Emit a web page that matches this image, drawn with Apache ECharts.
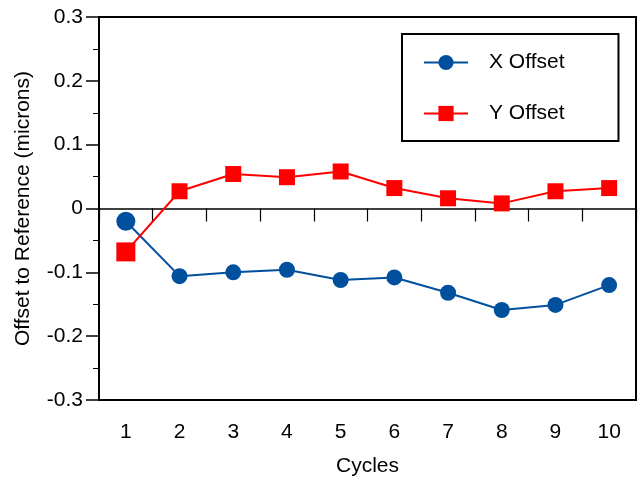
<!DOCTYPE html>
<html>
<head>
<meta charset="utf-8">
<title>Offset to Reference by Cycle</title>
<script src="https://cdn.jsdelivr.net/npm/echarts@6/dist/echarts.min.js"></script>
<style>
  html, body { margin: 0; padding: 0; background: #fff; }
  #chart { width: 638px; height: 480px; }
</style>
</head>
<body>
<div id="chart"></div>
<script>
// Measurement cycles along the horizontal axis
const cycles = ['1', '2', '3', '4', '5', '6', '7', '8', '9', '10'];

// Offsets to reference, in microns
const xOffset = [-0.020, -0.106, -0.100, -0.096, -0.112, -0.108, -0.132, -0.159, -0.151, -0.120];
const yOffset = [-0.068, 0.027, 0.054, 0.049, 0.058, 0.032, 0.016, 0.008, 0.027, 0.032];

const seriesNames = ['X Offset', 'Y Offset'];

const FONT = "'Liberation Sans', Arial, sans-serif";
const BLUE = '#00509E';
const RED = '#FF0000';

const chart = echarts.init(document.getElementById('chart'), null, { renderer: 'canvas' });

// First point of each run is drawn a little larger
const markerSize = (val, params) => (params.dataIndex === 0 ? 19 : 16);

chart.setOption({
  animation: false,
  backgroundColor: '#fff',
  textStyle: { fontFamily: FONT, color: '#000' },
  grid: {
    left: 99, right: 2, top: 17, bottom: 80,
    outerBoundsMode: 'none',
    containLabel: false,
    show: true, borderColor: '#000', borderWidth: 2
  },
  legend: {
    left: 402, top: 34,
    orient: 'vertical',
    padding: [18, 54, 17, 21],
    itemWidth: 44, itemHeight: 19, itemGap: 30,
    borderColor: '#000', borderWidth: 2,
    backgroundColor: '#fff',
    data: seriesNames,
    textStyle: { fontFamily: FONT, fontSize: 21, color: '#000', padding: [0, 0, 0, 16] }
  },
  xAxis: [
    {
      // bottom axis: category labels and title
      type: 'category',
      data: cycles,
      position: 'bottom',
      boundaryGap: true,
      name: 'Cycles',
      nameLocation: 'middle',
      nameGap: 56,
      nameTextStyle: { fontFamily: FONT, fontSize: 21, color: '#000' },
      axisLine: { onZero: false, lineStyle: { color: '#000', width: 2 } },
      axisTick: { show: false },
      axisLabel: { fontFamily: FONT, fontSize: 21, color: '#000', margin: 22 },
      splitLine: { show: false }
    },
    {
      // zero line with category dividers
      type: 'category',
      data: cycles,
      position: 'bottom',
      boundaryGap: true,
      axisLine: { onZero: true, lineStyle: { color: '#000', width: 1.5 } },
      axisTick: { show: true, length: 13, lineStyle: { color: '#000', width: 1.2 } },
      axisLabel: { show: false },
      splitLine: { show: false }
    }
  ],
  yAxis: {
    type: 'value',
    min: -0.3, max: 0.3, interval: 0.1,
    name: 'Offset to Reference (microns)',
    nameLocation: 'middle',
    nameGap: 65,
    nameTextStyle: { fontFamily: FONT, fontSize: 21, color: '#000' },
    axisLine: { show: true, lineStyle: { color: '#000', width: 2 } },
    axisTick: { show: true, length: 13, lineStyle: { color: '#000', width: 1.5 } },
    minorTick: { show: true, splitNumber: 2, length: 6, lineStyle: { color: '#000', width: 1 } },
    axisLabel: {
      fontFamily: FONT, fontSize: 21, color: '#000', margin: 16,
      formatter: v => (Math.abs(v) < 1e-9 ? '0' : v.toFixed(1))
    },
    splitLine: { show: false }
  },
  series: [
    {
      name: seriesNames[0],
      type: 'line',
      xAxisIndex: 0,
      data: xOffset,
      symbol: 'circle',
      symbolSize: markerSize,
      color: BLUE,
      lineStyle: { color: BLUE, width: 2 },
      itemStyle: { color: BLUE },
      z: 3
    },
    {
      name: seriesNames[1],
      type: 'line',
      xAxisIndex: 0,
      data: yOffset,
      symbol: 'rect',
      symbolSize: markerSize,
      color: RED,
      lineStyle: { color: RED, width: 2 },
      itemStyle: { color: RED },
      z: 4
    }
  ]
});
</script>
</body>
</html>
